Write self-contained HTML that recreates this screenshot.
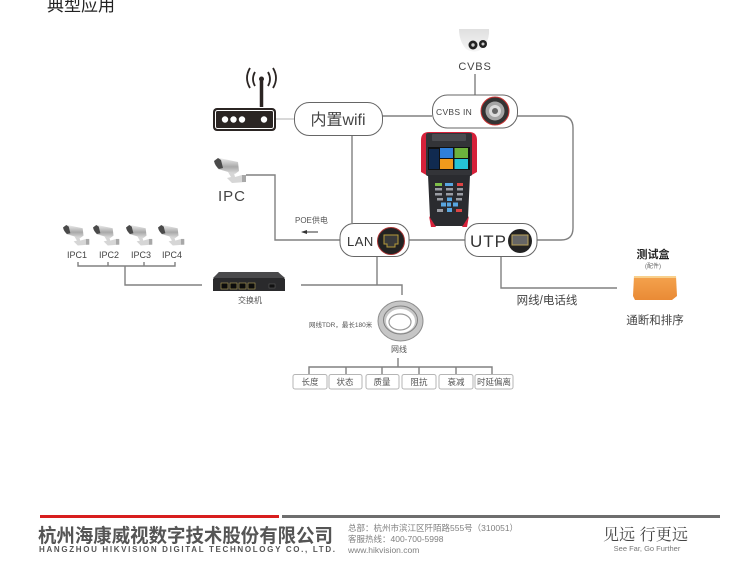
<!DOCTYPE html>
<html lang="zh">
<head>
<meta charset="utf-8">
<title>典型应用</title>
<style>
html,body{margin:0;padding:0;background:#fff;width:750px;height:583px;overflow:hidden}
svg{display:block;font-family:"Liberation Sans","Noto Sans CJK SC",sans-serif;filter:blur(.3px)}
</style>
</head>
<body>
<svg width="750" height="583" viewBox="0 0 750 583" xmlns="http://www.w3.org/2000/svg">
<defs>
<linearGradient id="silver" x1="0" y1="0" x2="0" y2="1"><stop offset="0" stop-color="#eee"/><stop offset=".55" stop-color="#a9a9a9"/><stop offset="1" stop-color="#ddd"/></linearGradient>
<linearGradient id="dome" x1="0" y1="0" x2="0" y2="1"><stop offset="0" stop-color="#e0e0e0"/><stop offset="1" stop-color="#f5f5f5"/></linearGradient>
<linearGradient id="orange" x1="0" y1="0" x2="0" y2="1"><stop offset="0" stop-color="#f4a24e"/><stop offset="1" stop-color="#e98a35"/></linearGradient>
<g id="bullet">
  <path d="M1 2 L5 0 L24 4 L25 13 L21 16 L4 11 Z" fill="url(#silver)"/>
  <path d="M0 3 L4 0 L7 2 L9 10 L5 11 Q1 8 0 3Z" fill="#4a4a4a"/>
  <path d="M14 14 L20 15 L21 19 L28 17 L32 18 L32 24 L18 25 L13 20 L17 19Z" fill="#d6d6d6"/>
  <rect x="28" y="17" width="4" height="7" fill="#a8a8a8"/>
</g>
</defs>

<text x="47" y="11" font-size="17" fill="#222">典型应用</text>

<!-- connectors -->
<g fill="none" stroke="#808080" stroke-width="1.400">
  <path d="M475 74V95"/>
  <path d="M382 116H432"/>
  <path d="M352 135V223"/>
  <path d="M276 119H294" stroke="#ccc"/>
  <path d="M517 116H561Q573 116 573 128V228Q573 240 561 240H537"/>
  <path d="M409 240H465"/>
  <path d="M246 175H275V240H340"/>
  <path d="M78 262V266H175V262M108 262V266M144 262V266"/>
  <path d="M125 266V285H202"/>
  <path d="M301 285H402V295"/>
  <path d="M377 257V285"/>
  <path d="M501 257V288H617"/>
  <path d="M398 358V367M309 374V367H492V374M346 367V374M382 367V374M419 367V374M456 367V374"/>
</g>
<path d="M302 232H318" stroke="#333" stroke-width="1"/>
<path d="M301 232L307 230V234Z" fill="#333"/>
<text x="295" y="223" font-size="8" fill="#555">POE供电</text>

<!-- pills -->
<g fill="#fff" stroke="#666" stroke-width="1">
  <rect x="294.500" y="102.500" width="88" height="33" rx="15"/>
  <rect x="432.500" y="95" width="85" height="33" rx="15"/>
  <rect x="340" y="223.500" width="69" height="33" rx="14"/>
  <rect x="465" y="223.500" width="72" height="33" rx="14"/>
</g>
<text x="338" y="125" font-size="16" fill="#444" text-anchor="middle">内置wifi</text>
<text x="436" y="115" font-size="8.500" fill="#444" letter-spacing=".3">CVBS IN</text>
<text x="347" y="246" font-size="13" fill="#333" letter-spacing=".5">LAN</text>
<text x="470" y="247" font-size="17" fill="#333" letter-spacing="1">UTP</text>

<!-- BNC port -->
<circle cx="495" cy="111" r="14" fill="#333" stroke="#c33" stroke-width="1"/>
<circle cx="495" cy="111" r="9.500" fill="#a5a5a5"/>
<circle cx="495" cy="111" r="6" fill="#dcdcdc"/>
<circle cx="495" cy="111" r="3" fill="#666"/>
<!-- LAN port -->
<circle cx="391" cy="241" r="13.500" fill="#222" stroke="#a33" stroke-width="1"/>
<path d="M384 235H398V244H395V247H387V244H384Z" fill="#3a3a3a" stroke="#b59a3a"/>
<!-- UTP port -->
<circle cx="520" cy="241" r="12" fill="#222"/>
<path d="M512 235H528V245H512Z" fill="#666" stroke="#b9a25a"/>

<!-- dome camera -->
<path d="M459 29H489Q490 38 484 47Q476 55 466 49Q459 41 459 29Z" fill="url(#dome)"/>
<circle cx="473" cy="45" r="4.500" fill="#222"/><circle cx="483" cy="44" r="4" fill="#222"/>
<circle cx="473" cy="45" r="1.700" fill="#ccc"/><circle cx="483" cy="44" r="1.500" fill="#ccc"/>
<text x="475" y="70" font-size="11" fill="#444" text-anchor="middle" letter-spacing=".8">CVBS</text>

<!-- router -->
<rect x="213" y="108" width="63" height="23" rx="4" fill="#2b2523"/>
<rect x="215.500" y="110.500" width="58" height="18" rx="2" fill="none" stroke="#fff" stroke-width="1"/>
<g fill="#fff"><circle cx="225" cy="119.500" r="3.200"/><circle cx="233.500" cy="119.500" r="3.200"/><circle cx="242" cy="119.500" r="3.200"/><circle cx="264" cy="119.500" r="3.200"/></g>
<path d="M261.500 81V107" stroke="#2b2523" stroke-width="3.500"/>
<circle cx="261.500" cy="79" r="2.500" fill="#2b2523"/>
<g fill="none" stroke="#2b2523" stroke-width="1.800">
  <path d="M255 72Q251 79 255 86M268 72Q272 79 268 86"/>
  <path d="M250 68Q244 78 250 88M273 68Q279 78 273 88"/>
</g>

<!-- tester -->
<path d="M421 140Q421 132 429 132H469Q477 132 477 140V172L470 176H428L421 172Z" fill="#d6213a"/>
<rect x="426" y="133" width="46" height="43" rx="2" fill="#333438"/>
<rect x="432" y="134" width="34" height="7" rx="1" fill="#4a4b50"/>
<path d="M428 175H470L468 218Q468 226 462 226H436Q430 226 430 218Z" fill="#2a2b2f"/>
<path d="M429 216L436 227H431ZM469 216L462 227H467Z" fill="#d6213a"/>
<rect x="428" y="147" width="42" height="23" fill="#111"/>
<rect x="440" y="148" width="13" height="10" fill="#2f7fd8"/>
<rect x="454.500" y="148" width="13.500" height="10" fill="#6db23c"/>
<rect x="440" y="159" width="13" height="10" fill="#f09a1c"/>
<rect x="454.500" y="159" width="13.500" height="10" fill="#25c3d6"/>
<rect x="429" y="149" width="10" height="20" fill="#102a50"/>
<g fill="#9a9da4">
  <rect x="435" y="183" width="7" height="3" fill="#7fbf4a"/><rect x="445" y="183" width="8" height="3" fill="#58a6e0"/><rect x="457" y="183" width="6" height="3" fill="#d44"/>
  <rect x="435" y="188" width="7" height="2.500"/><rect x="446" y="188" width="7" height="2.500"/><rect x="457" y="188" width="6" height="2.500"/>
  <rect x="435" y="193" width="7" height="2.500"/><rect x="446" y="193" width="7" height="2.500"/><rect x="457" y="193" width="6" height="2.500"/>
  <rect x="437" y="198" width="6" height="2.500"/><rect x="447" y="197.500" width="5" height="3.500" fill="#58a6e0"/><rect x="456" y="198" width="6" height="2.500"/>
  <rect x="441" y="202.500" width="5" height="4" fill="#58a6e0"/><rect x="447" y="202.500" width="4" height="4" fill="#58a6e0"/><rect x="453" y="202.500" width="5" height="4" fill="#58a6e0"/>
  <rect x="437" y="209" width="6" height="3"/><rect x="447" y="208" width="5" height="4" fill="#58a6e0"/><rect x="456" y="209" width="6" height="3" fill="#d44"/>
</g>

<!-- cameras -->
<use href="#bullet" x="214" y="158"/>
<text x="232" y="201" font-size="15" fill="#444" text-anchor="middle" letter-spacing="1">IPC</text>
<use href="#bullet" transform="translate(63 225) scale(.82)"/>
<use href="#bullet" transform="translate(93 225) scale(.82)"/>
<use href="#bullet" transform="translate(126 225) scale(.82)"/>
<use href="#bullet" transform="translate(158 225) scale(.82)"/>
<g font-size="9" fill="#444" text-anchor="middle">
  <text x="77" y="258">IPC1</text><text x="109" y="258">IPC2</text><text x="141" y="258">IPC3</text><text x="172" y="258">IPC4</text>
</g>

<!-- switch -->
<path d="M219 272H278L285 279V291H213V279Z" fill="#2a2a2c"/>
<path d="M219 272H278L285 278H213Z" fill="#4a4a4c"/>
<g fill="#0c0c0c" stroke="#b7a55a" stroke-width=".6">
  <rect x="221" y="283" width="7" height="6"/><rect x="230" y="283" width="7" height="6"/><rect x="239" y="283" width="7" height="6"/><rect x="248" y="283" width="7" height="6"/>
</g>
<rect x="269" y="284" width="6" height="4" fill="#111" stroke="#666" stroke-width=".5"/>
<text x="250" y="303" font-size="8" fill="#555" text-anchor="middle">交换机</text>

<!-- cable -->
<ellipse cx="400.500" cy="321" rx="18.500" ry="16" fill="none" stroke="#c6c6c6" stroke-width="8"/>
<ellipse cx="400.500" cy="321" rx="22.500" ry="20" fill="none" stroke="#8f8f8f" stroke-width="1"/>
<ellipse cx="400.500" cy="320" rx="17" ry="14" fill="none" stroke="#808080" stroke-width="1"/>
<ellipse cx="400" cy="322" rx="11" ry="8" fill="#fff" stroke="#999" stroke-width="1.200"/>
<text x="309" y="327" font-size="6.500" fill="#555">网线TDR，最长180米</text>
<text x="399" y="352" font-size="8" fill="#555" text-anchor="middle">网线</text>

<!-- measure boxes -->
<g fill="#fff" stroke="#b5b5b5" stroke-width="1">
  <rect x="293" y="374.500" width="34" height="14.500" rx="2"/>
  <rect x="329" y="374.500" width="33" height="14.500" rx="2"/>
  <rect x="366" y="374.500" width="33" height="14.500" rx="2"/>
  <rect x="402" y="374.500" width="34" height="14.500" rx="2"/>
  <rect x="439" y="374.500" width="34" height="14.500" rx="2"/>
  <rect x="475" y="374.500" width="38" height="14.500" rx="2"/>
</g>
<g font-size="8.500" fill="#555" text-anchor="middle">
  <text x="310" y="385">长度</text><text x="345" y="385">状态</text><text x="382" y="385">质量</text><text x="419" y="385">阻抗</text><text x="456" y="385">衰减</text><text x="494" y="385">时延偏离</text>
</g>

<!-- test box -->
<text x="547" y="304" font-size="11.500" fill="#444" text-anchor="middle">网线/电话线</text>
<text x="653" y="258" font-size="11" font-weight="bold" fill="#222" text-anchor="middle">测试盒</text>
<text x="653" y="268" font-size="6" fill="#666" text-anchor="middle">(配件)</text>
<path d="M634 276H676L677 296L672 300H635L633 296Z" fill="url(#orange)"/>
<path d="M634 276H676V278H634Z" fill="#f8d08c"/>
<text x="655" y="324" font-size="11.500" fill="#444" text-anchor="middle">通断和排序</text>

<!-- footer -->
<rect x="40" y="515" width="239" height="3" fill="#d81e1e"/>
<rect x="282" y="515" width="438" height="3" fill="#6e6e6e"/>
<text x="38" y="542" font-size="19" font-weight="bold" fill="#555" textLength="295" lengthAdjust="spacingAndGlyphs">杭州海康威视数字技术股份有限公司</text>
<text x="39" y="552" font-size="8" font-weight="bold" fill="#555" textLength="296" lengthAdjust="spacing">HANGZHOU HIKVISION DIGITAL TECHNOLOGY CO., LTD.</text>
<g font-size="8.500" fill="#808080">
  <text x="348" y="531">总部：杭州市滨江区阡陌路555号（310051）</text>
  <text x="348" y="542">客服热线：400-700-5998</text>
  <text x="348" y="553">www.hikvision.com</text>
</g>
<text x="603" y="540" font-size="16" fill="#444" font-family="'Noto Serif CJK SC',serif" textLength="85">见远 行更远</text>
<text x="647" y="551" font-size="7.500" fill="#777" text-anchor="middle">See Far, Go Further</text>
</svg>
</body>
</html>
